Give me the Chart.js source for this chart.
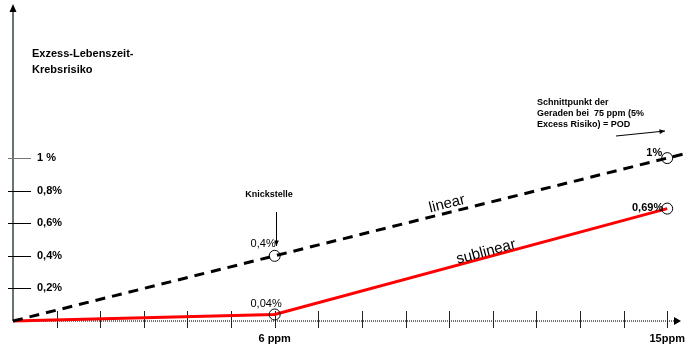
<!DOCTYPE html>
<html>
<head>
<meta charset="utf-8">
<script src="https://cdn.jsdelivr.net/npm/chart.js@4.4.1/dist/chart.umd.min.js"></script>
<style>
  html, body { margin: 0; padding: 0; background: #fff; }
  #wrap { width: 689px; height: 352px; position: relative; }
</style>
</head>
<body>
<div id="wrap"><canvas id="chart"></canvas></div>
<script>
// dose in ppm, risk in %
const linearPpm = [0, 6, 15, 15.5]
const linearRisk = [0, 0.4, 1.0, 1.033]
const sublinearPpm = [0, 6, 15]
const sublinearRisk = [0, 0.04, 0.69]

const yTickValues = [0.2, 0.4, 0.6, 0.8, 1.0]
const yTickLabels = ['0,2%', '0,4%', '0,6%', '0,8%', '1 %']
const xTickValues = [1, 2, 3, 4, 5, 6, 7, 8, 9, 10, 11, 12, 13, 14, 15]
const xLabelValues = [6, 15]
const xLabelTexts = ['6 ppm', '15ppm']

const FONT = '"Liberation Sans", Arial, sans-serif'

const toPoints = (xs, ys) => xs.map((x, i) => ({ x, y: ys[i] }))

const arrow = (ctx, x1, y1, x2, y2, size) => {
    const a = Math.atan2(y2 - y1, x2 - x1)
    ctx.beginPath()
    ctx.moveTo(x1, y1)
    ctx.lineTo(x2, y2)
    ctx.stroke()
    ctx.beginPath()
    ctx.moveTo(x2, y2)
    ctx.lineTo(x2 - size * Math.cos(a - 0.4), y2 - size * Math.sin(a - 0.4))
    ctx.lineTo(x2 - size * Math.cos(a + 0.4), y2 - size * Math.sin(a + 0.4))
    ctx.closePath()
    ctx.fill()
}

const axesPlugin = {
    id: 'axes',
    beforeDatasetsDraw(chart) {
        const { ctx, scales: { x, y } } = chart
        const x0 = x.getPixelForValue(0)
        const y0 = y.getPixelForValue(0)
        ctx.save()
        // x axis (dotted)
        ctx.strokeStyle = '#444'
        ctx.fillStyle = '#000'
        ctx.lineWidth = 1.5
        ctx.setLineDash([1, 1])
        ctx.beginPath()
        ctx.moveTo(x0, y0)
        ctx.lineTo(676, y0)
        ctx.stroke()
        ctx.setLineDash([])
        ctx.beginPath()
        ctx.moveTo(681, y0)
        ctx.lineTo(674, y0 - 4)
        ctx.lineTo(674, y0 + 4)
        ctx.closePath()
        ctx.fill()
        // x ticks
        ctx.strokeStyle = '#222'
        ctx.lineWidth = 1
        xTickValues.forEach(v => {
            const px = Math.round(x.getPixelForValue(v)) + 0.5
            ctx.beginPath()
            ctx.moveTo(px, y0 - 10)
            ctx.lineTo(px, y0 + 7)
            ctx.stroke()
        })
        // y axis
        ctx.strokeStyle = '#687272'
        ctx.lineWidth = 2
        ctx.beginPath()
        ctx.moveTo(x0, y0)
        ctx.lineTo(x0, 10)
        ctx.stroke()
        ctx.fillStyle = '#000'
        ctx.beginPath()
        ctx.moveTo(x0, 4)
        ctx.lineTo(x0 - 3.5, 12)
        ctx.lineTo(x0 + 3.5, 12)
        ctx.closePath()
        ctx.fill()
        // y ticks
        ctx.lineWidth = 1
        yTickValues.forEach((v, i) => {
            const py = Math.round(y.getPixelForValue(v)) + 0.5
            ctx.strokeStyle = i === yTickValues.length - 1 ? '#777' : '#000'
            ctx.beginPath()
            ctx.moveTo(x0 - 5, py)
            ctx.lineTo(x0 + 18, py)
            ctx.stroke()
        })
        ctx.restore()
    },
    afterDraw(chart) {
        const { ctx, scales: { x, y } } = chart
        const x0 = x.getPixelForValue(0)
        const y0 = y.getPixelForValue(0)
        ctx.save()
        ctx.fillStyle = '#000'
        ctx.textBaseline = 'middle'

        // y tick labels
        ctx.font = 'bold 11px ' + FONT
        ctx.textAlign = 'left'
        yTickValues.forEach((v, i) => {
            ctx.fillText(yTickLabels[i], x0 + 24, y.getPixelForValue(v))
        })
        // x labels
        ctx.textAlign = 'center'
        xLabelValues.forEach((v, i) => {
            ctx.fillText(xLabelTexts[i], x.getPixelForValue(v), y0 + 18)
        })

        // axis title
        ctx.textAlign = 'left'
        ctx.font = 'bold 11px ' + FONT
        ctx.fillText('Exzess-Lebenszeit-', 32, 54)
        ctx.fillText('Krebsrisiko', 32, 70)

        // point labels
        ctx.textAlign = 'right'
        ctx.font = '11px ' + FONT
        ctx.fillText('0,4%', x.getPixelForValue(linearPpm[1]) + 1, y.getPixelForValue(linearRisk[1]) - 12)
        ctx.fillText('0,04%', x.getPixelForValue(sublinearPpm[1]) + 7, y.getPixelForValue(sublinearRisk[1]) - 11)
        ctx.font = 'bold 11px ' + FONT
        ctx.fillText('1%', x.getPixelForValue(linearPpm[2]) - 5, y.getPixelForValue(linearRisk[2]) - 5)
        ctx.fillText('0,69%', x.getPixelForValue(sublinearPpm[2]) - 4, y.getPixelForValue(sublinearRisk[2]) - 1)

        // Knickstelle
        ctx.textAlign = 'center'
        ctx.font = 'bold 9px ' + FONT
        ctx.fillText('Knickstelle', 269, 195)
        ctx.strokeStyle = '#000'
        ctx.lineWidth = 1
        arrow(ctx, 276.5, 212, 276.5, 246, 6)

        // Schnittpunkt note
        ctx.textAlign = 'left'
        ctx.fillText('Schnittpunkt der', 537, 103)
        ctx.fillText('Geraden bei  75 ppm (5%', 537, 114)
        ctx.fillText('Excess Risiko) = POD', 537, 125)
        arrow(ctx, 616, 136, 665, 131, 6)

        // line names
        ctx.font = '15px ' + FONT
        ctx.textAlign = 'center'
        ctx.save()
        ctx.translate(447, 204)
        ctx.rotate(-0.245)
        ctx.fillText('linear', 0, 0)
        ctx.restore()
        ctx.save()
        ctx.translate(486, 252)
        ctx.rotate(-0.26)
        ctx.fillText('sublinear', 0, 0)
        ctx.restore()

        ctx.restore()
    },
}

new Chart(document.getElementById('chart'), {
    type: 'scatter',
    data: {
        datasets: [
            {
                data: toPoints(linearPpm, linearRisk),
                showLine: true,
                borderColor: '#000',
                borderWidth: 3,
                borderDash: [10, 7],
                pointRadius: [0, 5.5, 5.5, 0],
                pointBorderWidth: 1,
                pointBorderColor: '#000',
                pointBackgroundColor: 'rgba(255,255,255,0)',
                clip: false,
            },
            {
                data: toPoints(sublinearPpm, sublinearRisk),
                showLine: true,
                borderColor: '#ff0000',
                borderWidth: 3,
                pointRadius: [0, 5.5, 5.5],
                pointBorderWidth: 1,
                pointBorderColor: '#000',
                pointBackgroundColor: 'rgba(255,255,255,0)',
                clip: false,
            },
        ],
    },
    options: {
        responsive: true,
        maintainAspectRatio: false,
        animation: false,
        layout: { autoPadding: false, padding: { left: 13, right: 0, top: 5, bottom: 31 } },
        plugins: { legend: { display: false }, tooltip: { enabled: false } },
        scales: {
            x: { type: 'linear', min: 0, max: 15.5, display: false },
            y: { type: 'linear', min: 0, max: 1.94, display: false },
        },
    },
    plugins: [axesPlugin],
})
</script>
</body>
</html>
